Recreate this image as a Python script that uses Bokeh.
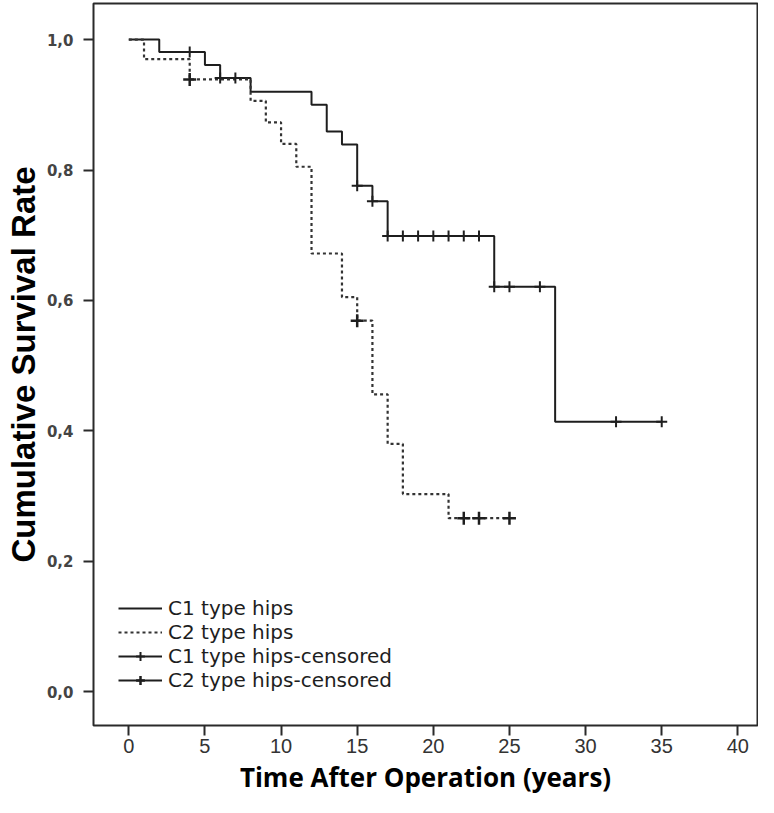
from bokeh.plotting import figure
from bokeh.models import Range1d, FixedTicker, Legend, LegendItem
from bokeh.embed import file_html
from bokeh.resources import INLINE

# Kaplan-Meier step data (time in years, cumulative survival)
c1_time = [0, 2, 5, 6, 8, 12, 13, 14, 15, 16, 17, 24, 28, 35]
c1_surv = [1.0, 0.981, 0.961, 0.941, 0.920, 0.900, 0.859, 0.839, 0.776, 0.752, 0.699, 0.621, 0.414, 0.414]

c2_time = [0, 1, 4, 8, 9, 10, 11, 12, 14, 15, 16, 17, 18, 21, 25]
c2_surv = [1.0, 0.970, 0.939, 0.906, 0.873, 0.840, 0.805, 0.672, 0.605, 0.569, 0.456, 0.380, 0.303, 0.266, 0.266]

# censored observations
c1_cens_time = [4, 6, 7, 15, 16, 17, 18, 19, 20, 21, 22, 23, 24, 25, 27, 32, 35]
c1_cens_surv = [0.981, 0.941, 0.941, 0.776, 0.752, 0.699, 0.699, 0.699, 0.699, 0.699, 0.699, 0.699,
                0.621, 0.621, 0.621, 0.414, 0.414]

c2_cens_time = [4, 15, 22, 23, 25]
c2_cens_surv = [0.939, 0.569, 0.266, 0.266, 0.266]

x_ticks = [0, 5, 10, 15, 20, 25, 30, 35, 40]
y_ticks = [0.0, 0.2, 0.4, 0.6, 0.8, 1.0]
y_tick_labels = ["0,0", "0,2", "0,4", "0,6", "0,8", "1,0"]

series_names = ["C1 type hips", "C2 type hips", "C1 type hips-censored", "C2 type hips-censored"]

nan = float("nan")

p = figure(width=758, height=797, output_backend="svg", toolbar_location=None,
           x_range=Range1d(-2.318, 41.29), y_range=Range1d(-0.0519, 1.0554),
           min_border_left=93, min_border_right=1, min_border_top=3, min_border_bottom=68)

p.background_fill_color = "white"
p.border_fill_color = "white"
p.outline_line_color = "#2a2a2a"
p.outline_line_width = 2
p.xgrid.visible = False
p.ygrid.visible = False

# axes
p.xaxis.ticker = FixedTicker(ticks=x_ticks)
p.yaxis.ticker = FixedTicker(ticks=y_ticks)
p.yaxis.major_label_overrides = {t: l for t, l in zip(y_ticks, y_tick_labels)}
for ax in (p.xaxis, p.yaxis):
    ax.axis_line_color = None
    ax.minor_tick_line_color = None
    ax.major_tick_in = 0
    ax.major_tick_out = 10
    ax.major_tick_line_width = 2
    ax.major_tick_line_color = "#2a2a2a"

p.yaxis.major_label_text_font = "DejaVu Sans"
p.yaxis.major_label_text_font_style = "bold"
p.yaxis.major_label_text_font_size = "15px"
p.yaxis.major_label_text_color = "#444444"
p.yaxis.major_label_standoff = 10

p.xaxis.major_label_text_font = "Liberation Sans"
p.xaxis.major_label_text_font_size = "20px"
p.xaxis.major_label_text_color = "#333333"
p.xaxis.major_label_standoff = 3

p.yaxis.axis_label = "Cumulative Survival Rate"
p.yaxis.axis_label_text_font = "Liberation Sans"
p.yaxis.axis_label_text_font_style = "bold"
p.yaxis.axis_label_text_font_size = "33px"
p.yaxis.axis_label_text_color = "black"
p.yaxis.axis_label_standoff = 2

p.xaxis.axis_label = "Time After Operation (years)"
p.xaxis.axis_label_text_font = "Open Sans"
p.xaxis.axis_label_text_font_style = "bold"
p.xaxis.axis_label_text_font_size = "26px"
p.xaxis.axis_label_text_color = "black"
p.xaxis.axis_label_standoff = 3

# curves
r1 = p.step(c1_time, c1_surv, mode="after", line_color="#1e1e1e", line_width=2)
r2 = p.step(c2_time, c2_surv, mode="after", line_color="#333333", line_width=2.2, line_dash="3 3")

r3 = p.scatter(c1_cens_time, c1_cens_surv, marker="cross", size=11, line_color="#1e1e1e", line_width=2)
r4 = p.scatter(c2_cens_time, c2_cens_surv, marker="cross", size=13, line_color="#1e1e1e", line_width=2.5)

# invisible (NaN) lines used only for the legend glyphs of the censored items
d3 = p.line([nan], [nan], line_color="#1e1e1e", line_width=2)
d4 = p.line([nan], [nan], line_color="#1e1e1e", line_width=2)

legend = Legend(items=[
    LegendItem(label=series_names[0], renderers=[r1]),
    LegendItem(label=series_names[1], renderers=[r2]),
    LegendItem(label=series_names[2], renderers=[d3, r3]),
    LegendItem(label=series_names[3], renderers=[d4, r4]),
], location=(25, 33))
legend.border_line_color = None
legend.background_fill_alpha = 0
legend.padding = 0
legend.margin = 0
legend.spacing = 0
legend.glyph_width = 44
legend.glyph_height = 22
legend.label_height = 22
legend.label_standoff = 6
legend.label_text_font = "DejaVu Sans"
legend.label_text_font_size = "20px"
legend.label_text_color = "#1e1e1e"
legend.label_text_line_height = 1.0
p.add_layout(legend, "center")

open("out.html", "w").write(file_html(p, INLINE))
